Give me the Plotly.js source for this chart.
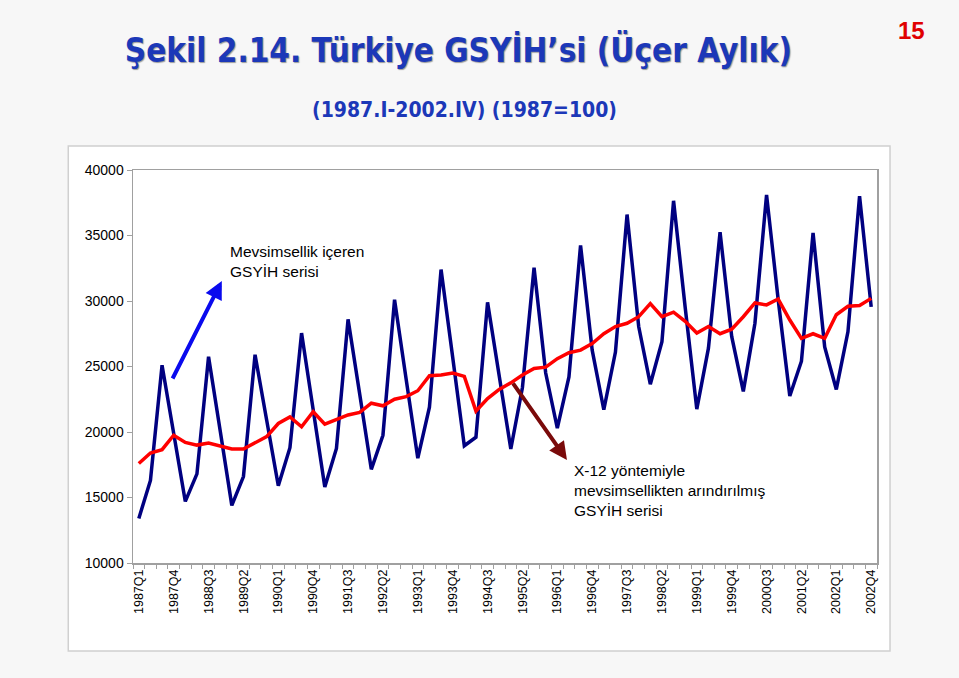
<!DOCTYPE html>
<html>
<head>
<meta charset="utf-8">
<script src="https://cdn.plot.ly/plotly-3.0.1.min.js"></script>
<style>
  html, body { margin: 0; padding: 0; background: #f7f7f7; }
  #chart { width: 959px; height: 678px; }
</style>
</head>
<body>
<div id="chart"></div>
<script>
// Türkiye GSYİH (üçer aylık), 1987Q1-2002Q4
const yillar = [1987, 1988, 1989, 1990, 1991, 1992, 1993, 1994, 1995, 1996, 1997, 1998, 1999, 2000, 2001, 2002];
const ceyrekler = [];
yillar.forEach(y => { for (let q = 1; q <= 4; q++) ceyrekler.push(y + 'Q' + q); });

// Mevsimsellik içeren seri
const gsyihHam = [
  13400, 16300, 25100, 19900,
  14700, 16800, 25750, 20100,
  14400, 16600, 25900, 20900,
  15900, 18800, 27550, 21700,
  15800, 18750, 28600, 22900,
  17150, 19750, 30100, 24000,
  18000, 21900, 32400, 25700,
  18950, 19600, 29900, 24300,
  18700, 23400, 32550, 24500,
  20300, 24200, 34250, 26250,
  21700, 26100, 36600, 28050,
  23650, 26900, 37650, 29500,
  21750, 26400, 35250, 27300,
  23100, 28300, 38100, 30100,
  22750, 25400, 35200, 26500,
  23250, 27650, 38000, 29550
];

// X-12 ile mevsimsellikten arındırılmış seri
const gsyihX12 = [
  17600, 18400, 18650, 19750,
  19200, 19000, 19150, 18900,
  18700, 18700, 19150, 19650,
  20650, 21150, 20400, 21550,
  20600, 20950, 21300, 21500,
  22200, 22000, 22500, 22700,
  23150, 24300, 24350, 24500,
  24250, 21600, 22550, 23250,
  23750, 24350, 24850, 24950,
  25600, 26050, 26250, 26750,
  27500, 28050, 28300, 28800,
  29800, 28800, 29150, 28450,
  27550, 28050, 27500, 27850,
  28800, 29850, 29700, 30150,
  28550, 27150, 27500, 27150,
  28950, 29600, 29650, 30200
];

const idx = ceyrekler.map((_, i) => i);
const etiketIdx = idx.filter(i => i % 3 === 0);
const etiketler = etiketIdx.map(i => ceyrekler[i]);

const FONT = 'Liberation Sans, Arial, sans-serif';
const BASLIK_FONT = "Tahoma, 'DejaVu Sans Condensed', 'DejaVu Sans', sans-serif";
const BASLIK_RENK = '#1c38b8';

const seriHam = {
  type: 'scatter', mode: 'lines',
  x: idx, y: gsyihHam,
  line: { color: '#000080', width: 3.5 },
  hoverinfo: 'skip'
};
const seriX12 = {
  type: 'scatter', mode: 'lines',
  x: idx, y: gsyihX12,
  line: { color: '#ff0000', width: 3.5 },
  hoverinfo: 'skip'
};

const layout = {
  width: 959, height: 678,
  margin: { l: 133, r: 82, t: 170, b: 115 },
  paper_bgcolor: '#f7f7f7',
  plot_bgcolor: '#ffffff',
  showlegend: false,
  font: { family: FONT, color: '#000000', size: 12 },
  title: {
    text: 'Şekil 2.14. Türkiye GSYİH’si (Üçer Aylık)',
    x: 0.478, xanchor: 'center', xref: 'container',
    y: 0.926, yanchor: 'middle', yref: 'container',
    font: { family: BASLIK_FONT, size: 33, color: BASLIK_RENK, weight: 'bold', shadow: '1px 1px 1px #9a9a9a' }
  },
  xaxis: {
    range: [-0.5, 63.5],
    tickmode: 'array', tickvals: etiketIdx, ticktext: etiketler,
    tickangle: -90, ticks: '',
    tickfont: { family: FONT, size: 12.5, color: '#000000' },
    minor: { tickmode: 'linear', tick0: -0.5, dtick: 1, ticks: 'outside', ticklen: 4, tickcolor: '#a0a0a0', showgrid: false },
    showgrid: false, zeroline: false,
    showline: true, linecolor: '#a0a0a0', linewidth: 1.5, mirror: true
  },
  yaxis: {
    range: [10000, 40000], dtick: 5000, tickformat: 'd',
    ticks: 'outside', ticklen: 5, tickcolor: '#a0a0a0',
    tickfont: { family: FONT, size: 14, color: '#000000' },
    showgrid: false, zeroline: false,
    showline: true, linecolor: '#a0a0a0', linewidth: 1.5, mirror: true
  },
  shapes: [
    { type: 'rect', xref: 'paper', yref: 'paper', layer: 'below',
      x0: -0.087, x1: 1.0175, y0: -0.224, y1: 1.061,
      fillcolor: '#ffffff', line: { color: '#d0d0d0', width: 1.5 } }
  ],
  annotations: [
    { xref: 'paper', yref: 'paper', x: 0.445, y: 1.153, xanchor: 'center', yanchor: 'middle',
      text: '(1987.I-2002.IV) (1987=100)', showarrow: false,
      font: { family: BASLIK_FONT, size: 21, color: BASLIK_RENK, weight: 'bold' } },
    { xref: 'paper', yref: 'paper', x: 1.047, y: 1.356, xanchor: 'center', yanchor: 'middle',
      text: '15', showarrow: false,
      font: { family: "'Liberation Sans Narrow', 'Liberation Sans', sans-serif", size: 24, color: '#e00000', weight: 'bold' } },
    { x: 7.66, y: 33050, xanchor: 'left', yanchor: 'middle', align: 'left',
      text: 'Mevsimsellik içeren<br>GSYİH serisi', showarrow: false,
      font: { family: FONT, size: 15.5, color: '#000000' } },
    { x: 37.26, y: 15500, xanchor: 'left', yanchor: 'middle', align: 'left',
      text: 'X-12 yöntemiyle<br>mevsimsellikten arındırılmış<br>GSYİH serisi', showarrow: false,
      font: { family: FONT, size: 15.5, color: '#000000' } },
    { x: 7.14, y: 31530, axref: 'x', ayref: 'y', ax: 2.84, ay: 23970,
      text: '', showarrow: true, arrowhead: 2, arrowsize: 0.9, arrowwidth: 4,
      arrowcolor: '#0a0aee', standoff: 0, startstandoff: 0 },
    { x: 36.83, y: 17860, axref: 'x', ayref: 'y', ax: 32.1, ay: 23820,
      text: '', showarrow: true, arrowhead: 2, arrowsize: 0.9, arrowwidth: 4,
      arrowcolor: '#7a0a0a', standoff: 0, startstandoff: 0 }
  ]
};

Plotly.newPlot('chart', [seriHam, seriX12], layout, { displayModeBar: false, staticPlot: true });
</script>
</body>
</html>
